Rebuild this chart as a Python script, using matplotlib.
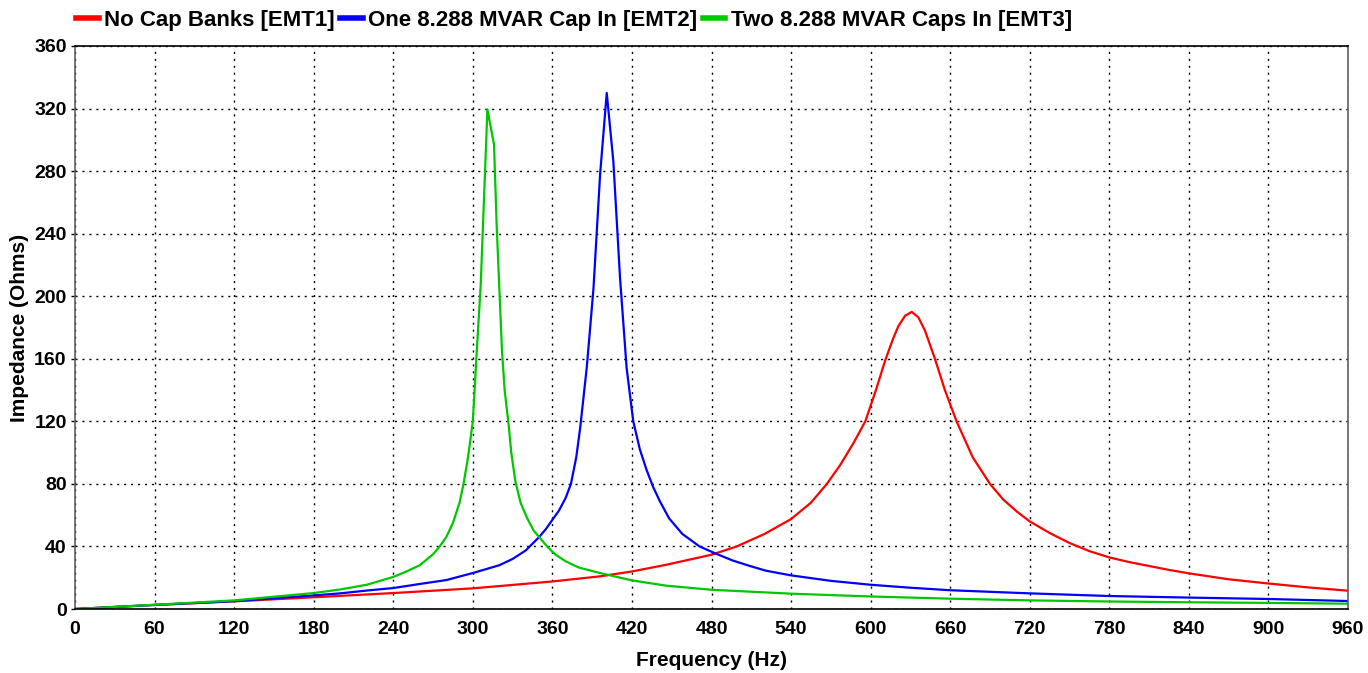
import matplotlib
matplotlib.use("Agg")
import matplotlib.pyplot as plt
from matplotlib.lines import Line2D

plt.rcParams['font.family'] = ['Liberation Sans', 'DejaVu Sans']
plt.rcParams['font.weight'] = 'bold'

# ---- data ----
red_f = [0, 60, 120, 180, 240, 300, 360, 396, 420, 446, 480, 499, 520, 540, 555,
         567, 577, 587, 596, 604, 611, 617, 621, 626, 631, 636, 641, 648.5, 656,
         664.8, 677, 690, 700, 710, 720, 735, 750, 765, 780, 795, 810, 825, 840,
         870, 900, 930, 960]
red_z = [0, 2.6, 4.9, 7.5, 10.2, 13.2, 17.6, 20.9, 24, 28.3, 34.7, 40, 48, 57.5, 68,
         80, 92, 106, 120, 140, 159, 173, 181, 187.5, 190, 186.5, 178, 160, 140,
         120, 97, 80, 70, 62.5, 56, 48.6, 42.2, 37, 33, 30, 27.5, 25, 22.8,
         19, 16.3, 13.8, 11.7]

blue_f = [0, 60, 120, 180, 200, 220, 240, 260, 280, 300, 320, 330, 340, 350, 355,
          360, 365, 370, 374, 378, 381, 386, 391, 396, 401, 406, 411, 416, 421,
          426, 431, 436, 441, 448, 458, 471, 483, 496, 509, 521, 540, 570, 600,
          630, 660, 720, 780, 840, 900, 960]
blue_z = [0, 2.6, 5.0, 8.7, 10, 11.8, 13.4, 16, 18.5, 23, 28, 32, 37.5, 46, 51,
          57, 63, 71, 80, 97, 116, 155, 205, 278, 330, 286, 212, 154, 120,
          102, 89, 78, 69, 58, 48, 40, 35.5, 31, 27.5, 24.5, 21.5, 18, 15.5,
          13.6, 12, 10, 8.3, 7.3, 6.4, 5.1]

green_f = [0, 60, 120, 180, 200, 220, 240, 250, 260, 270, 275, 280, 285, 290, 293,
           296, 298, 300, 303, 306, 311, 316, 318, 320, 322, 324, 327, 329, 332,
           336, 341, 346, 351, 356, 362, 370, 380, 396, 420, 446, 480, 540, 600,
           660, 720, 780, 840, 900, 960]
green_z = [0, 2.7, 5.5, 10.2, 12.5, 15.5, 20.5, 24, 28, 35, 40, 46, 55, 68, 80,
           95, 107, 120, 165, 208, 319.5, 297, 245, 205, 165, 140, 118, 100, 82,
           68, 58, 50, 45, 40, 35, 30.5, 26.5, 23, 18.3, 14.9, 12.3, 9.8, 8,
           6.6, 5.5, 4.8, 4.3, 3.9, 3.4]

labels = ["No Cap Banks [EMT1]", "One 8.288 MVAR Cap In [EMT2]", "Two 8.288 MVAR Caps In [EMT3]"]
colors = ["#ff0000", "#0000ff", "#00c800"]
xticks = list(range(0, 961, 60))
yticks = list(range(0, 361, 40))

fig = plt.figure(figsize=(13.68, 6.73), dpi=100)
ax = fig.add_axes([75/1368, 1 - 609/673, (1348 - 75)/1368, (609 - 46)/673])

for f, z, c, lab in zip([red_f, blue_f, green_f], [red_z, blue_z, green_z], colors, labels):
    ax.plot(f, z, color=c, lw=1.6, label=lab, solid_joinstyle='round')

ax.set_xlim(0, 960)
ax.set_ylim(0, 360)
ax.set_xticks(xticks)
ax.set_yticks(yticks)
ax.tick_params(axis='both', labelsize=14, length=3, width=1, pad=3)
ax.tick_params(axis='x', length=0, pad=9)
for lab in ax.get_xticklabels() + ax.get_yticklabels():
    lab.set_fontweight('bold')
ax.grid(True, color='black', linestyle=(0, (1.5, 3.5)), linewidth=1.0)
ax.spines['left'].set_color('#606060')
ax.spines['right'].set_color('#606060')
ax.spines['top'].set_color('black')
ax.spines['bottom'].set_color('black')
for s in ax.spines.values():
    s.set_linewidth(1.2)

ax.set_xlabel("Frequency (Hz)", fontsize=15, fontweight='bold', labelpad=9)
ax.set_ylabel("Impedance (Ohms)", fontsize=15, fontweight='bold', labelpad=4)

handles = [Line2D([], [], color=c, lw=4) for c in colors]
fig.legend(handles, labels, loc='upper left', bbox_to_anchor=(63/1368, 1.005),
           ncol=3, frameon=False, handlelength=1.0, handletextpad=0.25,
           columnspacing=0.25, prop={'size': 16, 'weight': 'bold'},
           borderaxespad=0.2)

fig.savefig("out.png", dpi=100)
